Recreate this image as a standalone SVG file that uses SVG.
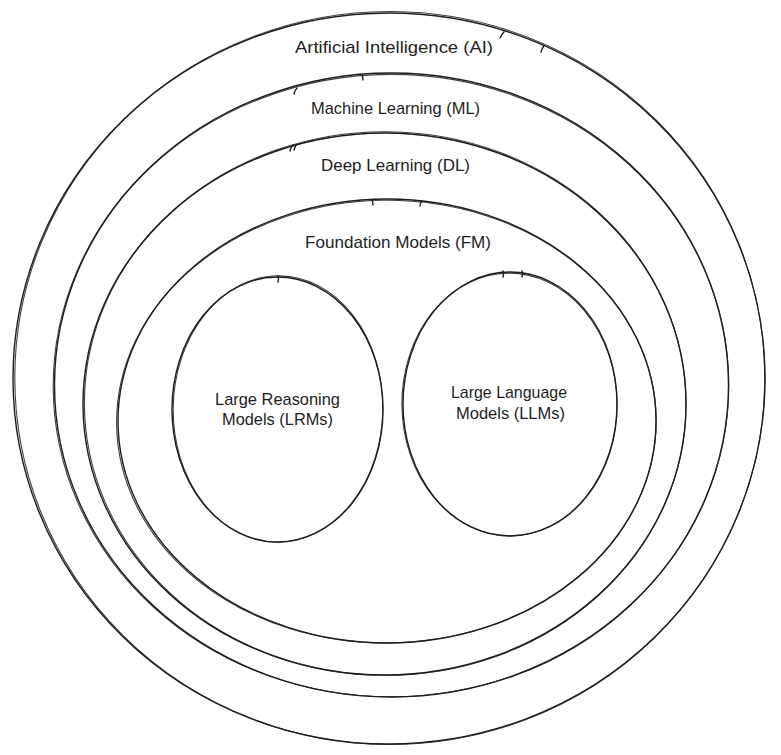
<svg xmlns="http://www.w3.org/2000/svg" width="781" height="755" viewBox="0 0 781 755">
  <style>
    .bg { fill: #ffffff; }
    .s1 { fill: none; stroke: #1e1e1e; stroke-width: 1.4; stroke-linecap: round; }
    .s2 { fill: none; stroke: #1e1e1e; stroke-width: 1.1; stroke-linecap: round; opacity: 0.85; }
    .lbl { font-family: "Liberation Sans", "DejaVu Sans", sans-serif; font-size: 17px; fill: #1e1e1e; text-anchor: middle; }
  </style>
  <rect class="bg" x="0" y="0" width="781" height="755"/>

  <g id="ai">
    <ellipse class="s1" cx="389" cy="378.5" rx="376" ry="365.5"/>
    <ellipse class="s2" cx="389.8" cy="378" rx="375" ry="366.5" transform="rotate(0.4 389 378)"/>
    <path class="s1" d="M500,38 q2,-4 4,-6 M541,52 q1,-4 3,-6"/>
    <text class="lbl" x="394" y="53" textLength="198" lengthAdjust="spacingAndGlyphs">Artificial Intelligence (AI)</text>
  </g>

  <g id="ml">
    <ellipse class="s1" cx="391.5" cy="385" rx="337" ry="312"/>
    <ellipse class="s2" cx="391" cy="385.6" rx="337.8" ry="311.2" transform="rotate(-0.4 391 385)"/>
    <path class="s1" d="M294,94 q1,-4 3,-6 M363,80 q0,-3 -1,-5"/>
    <text class="lbl" x="395.5" y="114" textLength="169" lengthAdjust="spacingAndGlyphs">Machine Learning (ML)</text>
  </g>

  <g id="dl">
    <ellipse class="s1" cx="384.5" cy="404" rx="301.5" ry="271"/>
    <ellipse class="s2" cx="385.2" cy="403.5" rx="300.8" ry="271.8" transform="rotate(0.5 384 404)"/>
    <path class="s1" d="M290,151 q1,-4 3,-6 M294,150 q1,-3 2,-5"/>
    <text class="lbl" x="395.5" y="171" textLength="149" lengthAdjust="spacingAndGlyphs">Deep Learning (DL)</text>
  </g>

  <g id="fm">
    <ellipse class="s1" cx="387" cy="421" rx="269" ry="222"/>
    <ellipse class="s2" cx="386.4" cy="421.6" rx="269.8" ry="221.3" transform="rotate(-0.5 387 421)"/>
    <path class="s1" d="M372,200 q1,2 1,5 M422,201 q-2,2 -2,5"/>
    <text class="lbl" x="398" y="248" textLength="186" lengthAdjust="spacingAndGlyphs">Foundation Models (FM)</text>
  </g>

  <g id="lrm">
    <ellipse class="s1" cx="277.5" cy="409.5" rx="105.5" ry="132.5"/>
    <ellipse class="s2" cx="278" cy="409" rx="104.8" ry="133.2" transform="rotate(0.8 277 409)"/>
    <path class="s1" d="M278,276 q1,3 0,6"/>
    <text class="lbl" x="277.5" y="405" textLength="125" lengthAdjust="spacingAndGlyphs">Large Reasoning</text>
    <text class="lbl" x="277.5" y="425" textLength="111" lengthAdjust="spacingAndGlyphs">Models (LRMs)</text>
  </g>

  <g id="llm">
    <ellipse class="s1" cx="510" cy="404" rx="107" ry="132"/>
    <ellipse class="s2" cx="509.5" cy="404.5" rx="107.6" ry="131.4" transform="rotate(-0.8 510 404)"/>
    <path class="s1" d="M503,271 q1,2 0,6 M522,271 q1,2 0,6"/>
    <text class="lbl" x="509" y="398" textLength="116" lengthAdjust="spacingAndGlyphs">Large Language</text>
    <text class="lbl" x="510.5" y="419" textLength="109" lengthAdjust="spacingAndGlyphs">Models (LLMs)</text>
  </g>

  <g id="connectors"></g>
</svg>
